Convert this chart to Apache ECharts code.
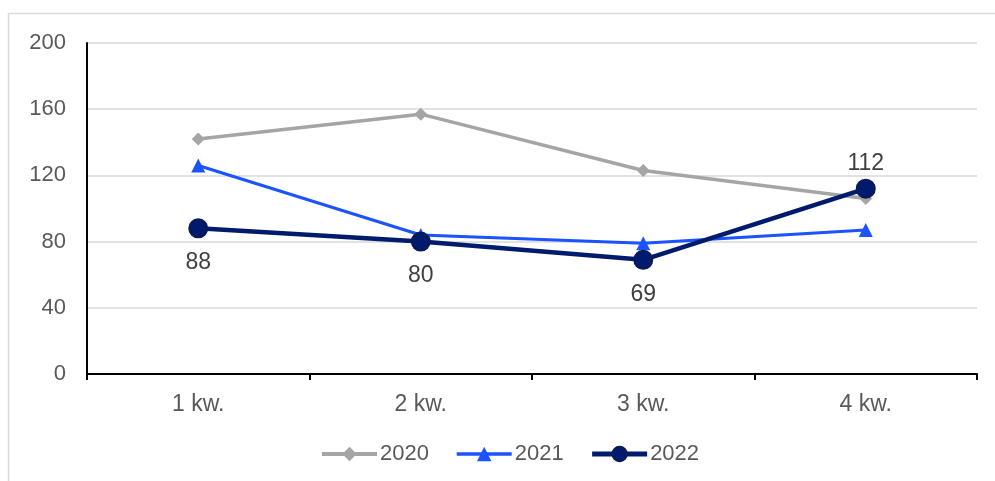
<!DOCTYPE html>
<html><head><meta charset="utf-8">
<script src="https://cdn.jsdelivr.net/npm/echarts@6/dist/echarts.min.js"></script>
<style>html,body{margin:0;padding:0;background:#fff}#c{width:995px;height:481px}</style>
</head><body><div id="c"></div>
<script>
const categories = ['1 kw.', '2 kw.', '3 kw.', '4 kw.'];
const s2020 = [142, 157, 123, 106];
const s2021 = [126, 84, 79, 87];
const s2022 = [88, 80, 69, 112];
const labelPos2022 = ['bottom', 'bottom', 'bottom', 'top'];
const yTicks = [0, 40, 80, 120, 160, 200];

const chart = echarts.init(document.getElementById('c'), null, {renderer: 'canvas'});
const font = 'Liberation Sans, Arial, sans-serif';
chart.setOption({
  animation: false,
  backgroundColor: '#fff',
  graphic: [{type: 'rect', shape: {x: 8.5, y: 13.5, width: 1000, height: 500}, style: {fill: 'none', stroke: '#d9d9d9', lineWidth: 1.5}, z: -1}],
  grid: {left: 87, right: 18, top: 43, bottom: 107},
  legend: {
    bottom: 11, left: 315, itemWidth: 55, itemHeight: 18, itemGap: 26,
    textStyle: {fontFamily: font, fontSize: 22, color: '#595959', padding: [0, 0, 0, -2]},
    data: [
      {name: '2020', lineStyle: {width: 4}},
      {name: '2021', lineStyle: {width: 3.5}},
      {name: '2022', lineStyle: {width: 5}}
    ]
  },
  xAxis: {
    type: 'category', data: categories, boundaryGap: true,
    axisLine: {lineStyle: {color: '#000', width: 2}},
    axisTick: {show: true, length: 6, lineStyle: {color: '#000', width: 2}},
    axisLabel: {fontFamily: font, fontSize: 23, color: '#595959', margin: 19}
  },
  yAxis: {
    type: 'value', min: yTicks[0], max: yTicks[yTicks.length - 1], interval: 40,
    axisLine: {show: true, lineStyle: {color: '#000', width: 2}},
    axisTick: {show: false},
    splitLine: {lineStyle: {color: '#d9d9d9', width: 1.5}},
    axisLabel: {fontFamily: font, fontSize: 22, color: '#595959', margin: 21}
  },
  series: [
    {name: '2020', type: 'line', data: s2020, symbol: 'diamond', symbolSize: 13,
     lineStyle: {color: '#a5a5a5', width: 3.5}, itemStyle: {color: '#a5a5a5'}, z: 2},
    {name: '2021', type: 'line', data: s2021, symbol: 'triangle', symbolSize: 14,
     lineStyle: {color: '#1a53ff', width: 3}, itemStyle: {color: '#1a53ff'}, z: 3},
    {name: '2022', type: 'line',
     data: s2022.map((v, i) => ({value: v, label: {position: labelPos2022[i], distance: labelPos2022[i] === 'top' ? 3 : 13}})),
     symbol: 'circle', symbolSize: 18,
     lineStyle: {color: '#001a6e', width: 4.5}, itemStyle: {color: '#001a6e', borderColor: '#0a1a55', borderWidth: 2},
     label: {show: true, fontFamily: font, fontSize: 23, color: '#404040'}, z: 4}
  ]
});
</script></body></html>
